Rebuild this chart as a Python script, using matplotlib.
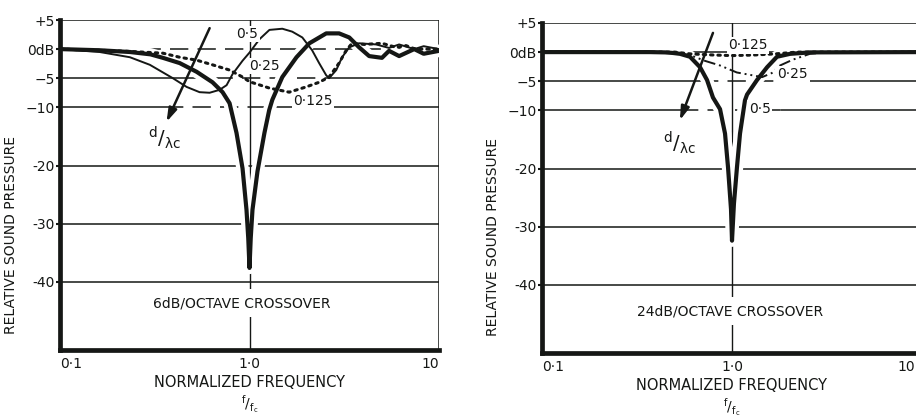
import matplotlib
matplotlib.use("Agg")
import matplotlib.pyplot as plt
import matplotlib.patheffects as pe
import matplotlib.transforms as mtransforms

INK = "#151715"
plt.rcParams["font.family"] = ["DejaVu Sans"]
plt.rcParams["mathtext.default"] = "regular"

# ---- 6 dB/octave crossover: relative response vs normalized frequency ----
f6_025 = [0.1, 0.162, 0.234, 0.30, 0.349, 0.428, 0.526, 0.638, 0.721, 0.785, 0.854,
          0.919, 0.964, 0.985, 1.0, 1.015, 1.037, 1.102, 1.199, 1.27, 1.32, 1.49,
          1.77, 2.07, 2.54, 2.97, 3.36, 3.79, 4.28, 5.0, 5.45, 6.16, 7.4, 8.3, 10]
db6_025 = [0, -0.2, -0.5, -0.9, -1.5, -2.4, -3.9, -5.7, -7.4, -9.3, -14.4,
           -20.5, -27.6, -32.5, -37.6, -32.5, -27.6, -21.0, -14.4, -10.5, -8.7, -4.8,
           -1.4, 1.0, 2.7, 2.7, 2.0, 0.3, -1.2, -1.5, -0.3, -1.2, 0, -0.8, -0.3]

f6_05 = [0.1, 0.162, 0.234, 0.298, 0.394, 0.466, 0.545, 0.616, 0.695, 0.757, 0.814,
         0.919, 1.0, 1.129, 1.274, 1.49, 1.68, 1.9, 2.14, 2.33, 2.54, 2.63, 2.87,
         3.08, 3.36, 3.79, 4.66, 5.45, 6.16, 7.4, 8.3, 10]
db6_05 = [0, -0.5, -1.4, -2.7, -5.0, -6.5, -7.4, -7.5, -7.0, -6.2, -4.3,
          -2.0, -0.6, 1.7, 3.3, 3.5, 3.0, 2.0, -0.2, -2.4, -4.5, -5.0, -3.6,
          -1.4, 0.3, 1.0, 0.8, 0.2, 0.8, 0, 0.5, 0]

f6_0125 = [0.1, 0.162, 0.234, 0.349, 0.428, 0.526, 0.638, 0.785, 0.919, 1.0, 1.274,
           1.62, 1.99, 2.33, 2.63, 2.97, 3.24, 3.48, 4.03, 5.0, 5.94, 6.7, 7.5, 10]
db6_0125 = [0, -0.2, -0.4, -0.7, -1.4, -1.9, -2.7, -3.6, -4.8, -5.6, -6.7,
            -7.4, -6.5, -5.7, -4.8, -2.4, -0.2, 1.0, 0.8, 1.0, 0.3, 0.6, 0, 0]

# ---- 24 dB/octave crossover ----
f24_05 = [0.1, 0.37, 0.444, 0.489, 0.533, 0.601, 0.679, 0.739, 0.794, 0.865, 0.919,
          0.953, 0.988, 1.0, 1.024, 1.062, 1.102, 1.17, 1.2, 1.354, 1.53, 1.725,
          2.02, 2.57, 10]
db24_05 = [0, 0, -0.05, -0.15, -0.3, -0.8, -2.6, -4.8, -7.8, -9.8, -14.0,
           -19.8, -27.0, -32.4, -26.0, -19.8, -14.0, -8.3, -7.3, -4.8, -2.6, -0.8,
           -0.3, -0.05, 0]

f24_025 = [0.1, 0.47, 0.6, 0.72, 0.865, 1.06, 1.24, 1.44, 1.62, 1.79, 2.09, 2.57,
           3.28, 10]
db24_025 = [0, 0, -0.5, -1.5, -2.3, -3.5, -3.9, -4.3, -3.6, -2.3, -1.3, -0.3, 0, 0]

f24_0125 = [0.1, 0.5, 0.6, 0.8, 1.0, 1.3, 1.7, 2.2, 10]
db24_0125 = [0, 0, -0.3, -0.5, -0.6, -0.5, -0.3, 0, 0]

x_ticks = [0.1, 1.0, 10]
x_ticklabels = ["0·1", "1·0", "10"]
y_ticks = [5, 0, -5, -10, -20, -30, -40]
y_ticklabels = ["+5", "0dB", "−5", "−10", "-20", "-30", "-40"]

fig = plt.figure(figsize=(9.16, 4.18), dpi=100)
fig.patch.set_facecolor("white")

ax1 = fig.add_axes([60 / 916, 68 / 418, 379 / 916, 330 / 418])
ax2 = fig.add_axes([542 / 916, 65 / 418, 380 / 916, 330 / 418])

# gridline layout per panel: level -> list of (f_start, f_end, dashed)
grid_left = {
    5: [(0.1, 10, False)],
    0: [(0.1, 10, True)],
    -5: [(0.1, 0.466, False), (0.466, 2.73, True), (2.73, 10, False)],
    -10: [(0.1, 0.357, False), (0.357, 2.73, True), (2.73, 10, False)],
    -20: [(0.1, 10, False)],
    -30: [(0.1, 10, False)],
    -40: [(0.1, 10, False)],
}
grid_right = {
    5: [(0.1, 10, False)],
    0: [(0.1, 10, False)],
    -5: [(0.1, 0.68, False), (0.68, 2.8, True), (2.8, 10, False)],
    -10: [(0.1, 0.53, False), (0.53, 1.8, True), (1.8, 10, False)],
    -20: [(0.1, 10, False)],
    -30: [(0.1, 10, False)],
    -40: [(0.1, 10, False)],
}

halo = [pe.Stroke(linewidth=9, foreground="white"), pe.Normal()]


def setup(ax, grid):
    ax.set_xscale("log")
    ax.set_xlim(0.1, 10)
    ax.set_ylim(-51.7, 5)
    ax.set_facecolor("white")
    for level, segs in grid.items():
        for a, b, dashed in segs:
            ax.plot([a, b], [level, level], color=INK, lw=1.1,
                    ls=(0, (12, 6)) if dashed else "-", zorder=1,
                    solid_capstyle="butt")
    ax.plot([1, 1], [5, -51.7], color=INK, lw=1.0, zorder=1)
    ax.set_xticks(x_ticks)
    ax.set_xticklabels(x_ticklabels)
    ax.minorticks_off()
    ax.set_yticks(y_ticks)
    ax.set_yticklabels(y_ticklabels)
    ax.tick_params(axis="x", length=0, pad=5, labelsize=10, colors=INK)
    ax.tick_params(axis="y", length=3, width=1.5, pad=1, labelsize=10, colors=INK)
    xl = ax.get_xticklabels()
    xl[0].set_ha("left")
    xl[2].set_ha("right")
    for side in ("left", "bottom"):
        ax.spines[side].set_linewidth(3.4)
        ax.spines[side].set_color(INK)
    for side in ("top", "right"):
        ax.spines[side].set_visible(False)
    ax.set_xlabel("NORMALIZED FREQUENCY", fontsize=10.5, color=INK, labelpad=3)
    ax.set_ylabel("RELATIVE SOUND PRESSURE", fontsize=10, color=INK)
    ax.yaxis.set_label_coords(-0.11, 0.35)
    ax.text(0.5, -0.165, r"$^{f}/_{f_c}$", transform=ax.transAxes, ha="center",
            va="center", fontsize=10, color=INK)


setup(ax1, grid_left)
setup(ax2, grid_right)
ax1.plot([10, 10], [5, -51.7], color=INK, lw=1.1, zorder=1)

# the right panel runs past the figure edge; pull its last tick label inside
last = ax2.get_xticklabels()[2]
last.set_transform(last.get_transform() +
                   mtransforms.ScaledTranslation(-7 / 100, 0, fig.dpi_scale_trans))

# left panel curves
ax1.plot(f6_025, db6_025, color=INK, lw=3.0, zorder=2, path_effects=halo,
         solid_joinstyle="round")
ax1.plot(f6_05, db6_05, color=INK, lw=1.4, zorder=3)
ax1.plot(f6_0125, db6_0125, color=INK, lw=2.2, ls=(0, (0.8, 1.6)), zorder=3,
         dash_capstyle="round")

# right panel curves
ax2.plot(f24_05, db24_05, color=INK, lw=3.0, zorder=2, path_effects=halo,
         solid_joinstyle="round")
ax2.plot(f24_025, db24_025, color=INK, lw=1.4, ls=(0, (6, 2, 1, 2, 1, 2)), zorder=3)
ax2.plot(f24_0125, db24_0125, color=INK, lw=2.2, ls=(0, (0.8, 1.6)), zorder=3,
         dash_capstyle="round")

box = dict(boxstyle="square,pad=0.1", fc="white", ec="none")
lab_kw = dict(fontsize=10, color=INK, ha="center", va="center", zorder=4, bbox=box)

ax1.text(0.976, 2.6, "0·5", **lab_kw)
ax1.text(1.2, -2.9, "0·25", **lab_kw)
ax1.text(2.17, -8.9, "0·125", **lab_kw)
ax2.text(1.21, 1.2, "0·125", **lab_kw)
ax2.text(2.07, -3.8, "0·25", **lab_kw)
ax2.text(1.40, -9.7, "0·5", **lab_kw)

arrow = dict(arrowstyle="-|>,head_length=0.8,head_width=0.25", color=INK, lw=1.8,
             shrinkA=0, shrinkB=0)
ax1.annotate("", xy=(0.365, -12.5), xytext=(0.616, 3.6), arrowprops=arrow, zorder=5)
ax2.annotate("", xy=(0.532, -11.7), xytext=(0.794, 3.3), arrowprops=arrow, zorder=5)

ax1.text(0.357, -15.3, r"$^{d}/_{\lambda c}$", fontsize=14, color=INK,
         ha="center", va="center", zorder=5)
ax2.text(0.532, -15.5, r"$^{d}/_{\lambda c}$", fontsize=14, color=INK,
         ha="center", va="center", zorder=5)

ax1.text(0.907, -43.7, "6dB/OCTAVE CROSSOVER", fontsize=10, color=INK,
         ha="center", va="center", zorder=4,
         bbox=dict(boxstyle="square,pad=0.5", fc="white", ec="none"))
ax2.text(0.976, -44.5, "24dB/OCTAVE CROSSOVER", fontsize=10, color=INK,
         ha="center", va="center", zorder=4,
         bbox=dict(boxstyle="square,pad=0.5", fc="white", ec="none"))

fig.savefig("out.png", dpi=100, facecolor="white")
